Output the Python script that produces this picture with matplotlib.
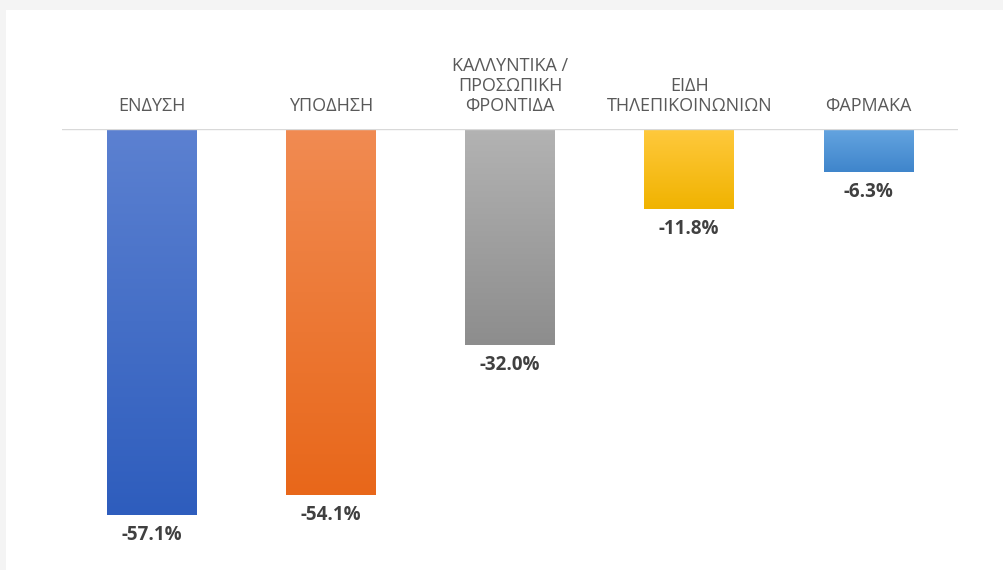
import matplotlib
matplotlib.use("Agg")
import matplotlib.pyplot as plt
import matplotlib.colors as mcolors
from matplotlib.patches import Rectangle
import numpy as np

categories = ["ΕΝΔΥΣΗ", "ΥΠΟΔΗΣΗ", "ΚΑΛΛΥΝΤΙΚΑ /\nΠΡΟΣΩΠΙΚΗ\nΦΡΟΝΤΙΔΑ", "ΕΙΔΗ\nΤΗΛΕΠΙΚΟΙΝΩΝΙΩΝ", "ΦΑΡΜΑΚΑ"]
values = [-57.1, -54.1, -32.0, -11.8, -6.3]
value_labels = ["-57.1%", "-54.1%", "-32.0%", "-11.8%", "-6.3%"]
top_colors = ["#5c81d1", "#f18b52", "#b3b3b3", "#ffc93d", "#64a4e0"]
bottom_colors = ["#2e5dbd", "#e8671a", "#8d8d8d", "#f0b300", "#3f85cb"]

plt.rcParams['font.family'] = ['Open Sans', 'Noto Sans', 'DejaVu Sans']

fig = plt.figure(figsize=(10.04, 5.70), dpi=100)
fig.patch.set_facecolor("#f4f4f4")
bg = fig.add_axes([6/1004, 0, 1 - 6/1004, 1 - 10/570], zorder=-10)
bg.set_facecolor("white")
bg.set_axis_off()
bg.add_patch(Rectangle((0, 0), 1, 1, transform=bg.transAxes, facecolor="white", edgecolor="none"))

ax = fig.add_axes([62/1004, 0.0141, (958-62)/1004, 0.7596], zorder=1)
ax.set_facecolor("none")
x = np.arange(len(categories))
bars = ax.bar(x, values, width=0.5, color="none", edgecolor="none", zorder=2)

for bar, c1, c2 in zip(bars, top_colors, bottom_colors):
    cmap = mcolors.LinearSegmentedColormap.from_list("g", [c1, c2])
    grad = np.linspace(0, 1, 256).reshape(-1, 1)
    bx, by = bar.get_x(), bar.get_y()
    bw, bh = bar.get_width(), bar.get_height()
    im = ax.imshow(grad, cmap=cmap, aspect="auto", origin="upper",
                   extent=(bx, bx + bw, by + bh, by), zorder=2)
    im.set_clip_path(bar)

ax.set_xlim(-0.5, len(categories) - 0.5)
ax.set_ylim(-64, 0)
ax.axhline(0, color="#d9d9d9", lw=1.0, zorder=3)

for xi, cat, v, lab in zip(x, categories, values, value_labels):
    ax.annotate(cat, (xi, 0), xytext=(0, 14), textcoords="offset pixels",
                ha="center", va="bottom", fontsize=13, color="#595959",
                linespacing=1.16, multialignment="center", annotation_clip=False)
    ax.annotate(lab, (xi, v), xytext=(0, -10), textcoords="offset pixels",
                ha="center", va="top", fontsize=13.5, fontweight="bold", color="#404040")

for s in ax.spines.values():
    s.set_visible(False)
ax.set_xticks([])
ax.set_yticks([])

fig.savefig("out.png", dpi=100, facecolor=fig.get_facecolor())
